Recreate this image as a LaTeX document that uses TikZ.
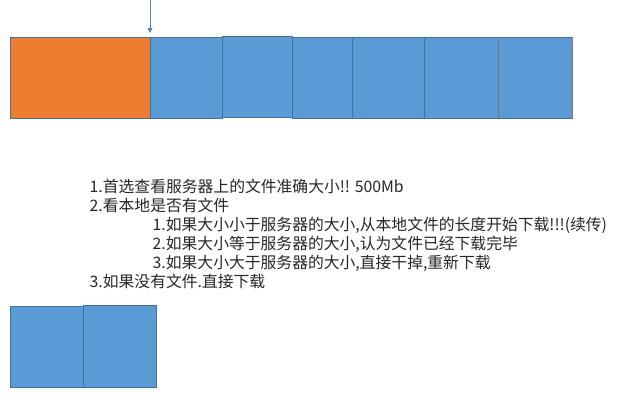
\documentclass[tikz,border=0pt]{standalone}
\usepackage{fontspec}
\setmainfont{Noto Sans CJK SC}
\usetikzlibrary{arrows.meta,positioning}
\definecolor{segorange}{HTML}{ED7D31}
\definecolor{segblue}{HTML}{5B9BD5}
\definecolor{segline}{HTML}{41719C}
\definecolor{segbrown}{HTML}{8A7468}

\tikzset{
  seg/.style={draw=segline,line width=0.8pt,fill=segblue,inner sep=0pt,outer sep=0pt,
    minimum height=81pt,anchor=north west},
  note/.style={anchor=base west,inner sep=0pt,font=\fontsize{15.8}{19}\selectfont,text=black!85}
}

\begin{document}
\begin{tikzpicture}[x=1pt,y=-1pt]
\useasboundingbox (0,0) rectangle (632,405);
% file on the server
\node[seg,fill=segorange,minimum width=140pt] (c0) at (10,37) {};
\node[seg,minimum width=72pt,right=0pt of c0] (c1) {};
\node[seg,minimum width=70pt,right=0pt of c1,yshift=1pt] (c2) {};
\node[seg,minimum width=60pt,right=0pt of c2,yshift=-1pt] (c3) {};
\node[seg,minimum width=72pt,right=0pt of c3] (c4) {};
\node[seg,minimum width=74pt,right=0pt of c4] (c5) {};
\node[seg,minimum width=74pt,right=0pt of c5] (c6) {};
\draw[segbrown,line width=1pt] (c6.north west) -- (c6.south west)
  (c6.north east) -- (c6.south east);
% download position
\coordinate (top) at (150,0);
\draw[segblue!85!black,line width=0.8pt,-{Triangle[length=5pt,width=5pt]}] (top) -- ([yshift=4pt]c1.north west);

\node[note] (l1) at (89.5,192.5) {1.首选查看服务器上的文件准确大小!! 500Mb};
\node[note] (l2) at (89.5,211.5) {2.看本地是否有文件};
\node[note] (l3) at (152.5,230.5) {1.如果大小小于服务器的大小,从本地文件的长度开始下载!!!(续传)};
\node[note] (l4) at (152.5,249.5) {2.如果大小等于服务器的大小,认为文件已经下载完毕};
\node[note] (l5) at (152.5,268.5) {3.如果大小大于服务器的大小,直接干掉,重新下载};
\node[note] (l6) at (89.5,287.5) {3.如果没有文件.直接下载};

% local file
\node[seg,minimum width=73pt] (d0) at (10,306) {};
\node[seg,minimum width=73pt,minimum height=82pt,right=0pt of d0] (d1) {};
\end{tikzpicture}
\end{document}
